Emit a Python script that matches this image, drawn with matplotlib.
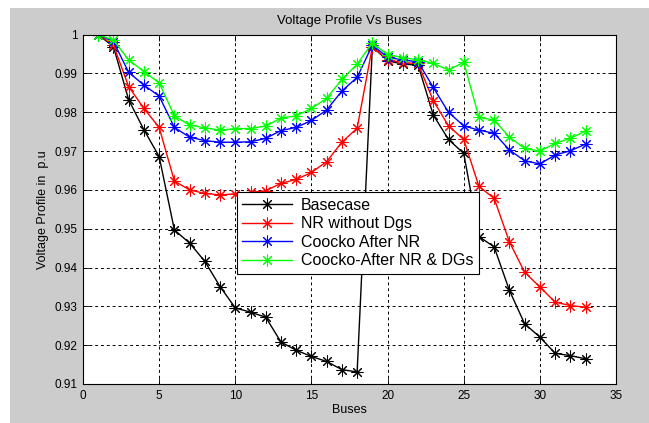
import matplotlib.pyplot as plt
from matplotlib.patches import Rectangle

buses = list(range(1, 34))

basecase = [1.0, 0.9969, 0.9832, 0.9755, 0.9686, 0.9497, 0.9463, 0.9416, 0.9351, 0.9296,
            0.9285, 0.9272, 0.9208, 0.9187, 0.9171, 0.9158, 0.9137, 0.9131, 0.9969, 0.9933,
            0.9924, 0.9922, 0.9793, 0.9730, 0.9694, 0.9480, 0.9453, 0.9341, 0.9255, 0.9221,
            0.9179, 0.9173, 0.9165]
nr_no_dg = [1.0, 0.9973, 0.9866, 0.9810, 0.9761, 0.9623, 0.9600, 0.9591, 0.9587, 0.9590,
            0.9594, 0.9598, 0.9617, 0.9627, 0.9645, 0.9673, 0.9723, 0.9759, 0.9969, 0.9935,
            0.9928, 0.9926, 0.9830, 0.9765, 0.9730, 0.9609, 0.9578, 0.9466, 0.9388, 0.9350,
            0.9311, 0.9302, 0.9298]
coocko_nr = [1.0, 0.9982, 0.9903, 0.9870, 0.9842, 0.9761, 0.9736, 0.9727, 0.9723, 0.9723,
             0.9724, 0.9733, 0.9753, 0.9761, 0.9779, 0.9806, 0.9855, 0.9890, 0.9973, 0.9942,
             0.9935, 0.9930, 0.9864, 0.9800, 0.9765, 0.9754, 0.9746, 0.9703, 0.9675, 0.9667,
             0.9690, 0.9701, 0.9718]
coocko_nr_dg = [1.0, 0.9986, 0.9935, 0.9905, 0.9876, 0.9791, 0.9767, 0.9760, 0.9754, 0.9758,
                0.9758, 0.9765, 0.9785, 0.9791, 0.9810, 0.9836, 0.9885, 0.9924, 0.9979, 0.9948,
                0.9941, 0.9935, 0.9926, 0.9909, 0.9929, 0.9787, 0.9780, 0.9736, 0.9707, 0.9700,
                0.9720, 0.9733, 0.9752]

plt.rcParams['font.family'] = ['Liberation Sans', 'DejaVu Sans']

fig = plt.figure(figsize=(6.49, 4.23), dpi=100)
fig.patch.set_facecolor('white')
fig.patches.append(Rectangle((10 / 649, 0), 1 - 10 / 649, 415 / 423,
                             transform=fig.transFigure, facecolor='#cccccc',
                             edgecolor='none', zorder=-10))
ax = fig.add_axes([0.1279, 0.0922, 0.8213, 0.8258])

# matlab-style '*' marker: 8-spoke asterisk
style = dict(marker=(8, 2, 0), markersize=8.5, linewidth=1.0, markeredgewidth=0.75)
ax.plot(buses, basecase, color='black', label='Basecase', **style)
ax.plot(buses, nr_no_dg, color='#ff0000', label='NR without Dgs', **style)
ax.plot(buses, coocko_nr, color='#0000ff', label='Coocko After NR', **style)
ax.plot(buses, coocko_nr_dg, color='#00ff00', label='Coocko-After NR & DGs', **style)

ax.set_xlim(0, 35)
ax.set_ylim(0.91, 1.0)
ax.set_xticks(range(0, 36, 5))
ax.set_yticks([0.91, 0.92, 0.93, 0.94, 0.95, 0.96, 0.97, 0.98, 0.99, 1.0])
ax.set_yticklabels(['0.91', '0.92', '0.93', '0.94', '0.95', '0.96', '0.97', '0.98', '0.99', '1'])
ax.tick_params(direction='in', top=True, right=True, labelsize=8.5, length=4, width=0.6,
               colors='black', pad=4)
for sp in ax.spines.values():
    sp.set_linewidth(0.8)
ax.grid(True, color='black', linestyle=(0, (3, 3)), linewidth=0.7)

ax.set_title('Voltage Profile Vs Buses', fontsize=9.5, pad=8)
ax.set_xlabel('Buses', fontsize=9, labelpad=2)
ax.set_ylabel('Voltage Profile in  p.u', fontsize=9, labelpad=4)

leg = ax.legend(loc='lower left', bbox_to_anchor=(0.288, 0.315), borderaxespad=0,
                fontsize=11.5, fancybox=False, framealpha=1, edgecolor='black',
                handlelength=3.1, labelspacing=0.22, borderpad=0.35, handletextpad=0.6)
leg.get_frame().set_linewidth(0.8)

fig.savefig('out.png', dpi=100, facecolor=fig.get_facecolor())
